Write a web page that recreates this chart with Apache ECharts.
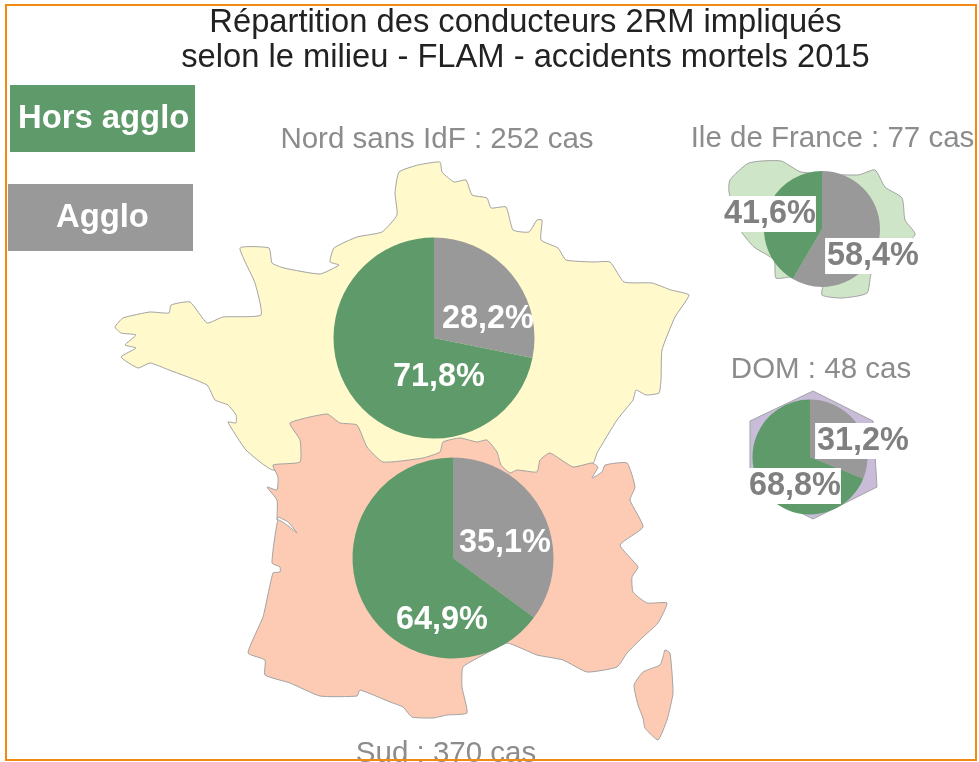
<!DOCTYPE html>
<html><head><meta charset="utf-8">
<style>html,body{margin:0;padding:0;background:#fff}#c{width:979px;height:762px}</style>
<script src="https://cdn.jsdelivr.net/npm/echarts@6/dist/echarts.min.js"></script>
</head><body><div id="c"></div>
<script>
const categories = ['Agglo', 'Hors agglo'];
const zones = ['Nord sans IdF : 252 cas', 'Sud : 370 cas', 'Ile de France : 77 cas', 'DOM : 48 cas'];
const nordValues = [28.2, 71.8];
const sudValues = [35.1, 64.9];
const idfValues = [58.4, 41.6];
const domValues = [31.2, 68.8];
const titleLines = 'Répartition des conducteurs 2RM impliqués\nselon le milieu - FLAM - accidents mortels 2015';

const GREEN = '#5e9a6a', GREY = '#999999', FONT = '"Liberation Sans", Arial, sans-serif';

const nordShape = [[399,172],[418,165],[440,162],[442,172],[454,182],[466,180],[472,195],[487,198],[491,208],[506,207],[513,230],[529,232],[537,220],[542,220],[541,240],[558,248],[566,260],[594,262],[610,262],[624,282],[652,283],[671,290],[689,295],[675,317],[662,350],[661,380],[659,393],[646,395],[636,390],[633,400],[617,420],[597,453],[593,463],[500,480],[273,470],[246,450],[228,422],[236,423],[236,415],[228,405],[215,400],[207,385],[169,370],[150,363],[138,368],[121,357],[136,348],[125,345],[136,335],[121,333],[115,327],[123,318],[150,312],[169,313],[171,305],[190,302],[207,323],[223,317],[261,315],[255,283],[240,248],[269,248],[272,263],[284,268],[320,274],[339,265],[330,262],[334,248],[357,237],[382,232],[397,215],[395,193]];
const sudShape = [[592,463],[573,467],[550,453],[540,460],[537,472],[517,470],[510,473],[501,465],[497,452],[487,440],[477,442],[460,438],[443,442],[440,452],[423,458],[383,462],[367,447],[357,425],[340,423],[327,414],[290,423],[300,440],[300,462],[273,465],[278,477],[277,490],[267,487],[277,500],[277,520],[278,517],[288,522],[297,533],[287,525],[278,520],[272,563],[280,567],[280,572],[273,573],[263,617],[248,653],[265,660],[265,675],[290,683],[320,696],[357,696],[360,690],[390,702],[403,707],[412,717],[433,718],[447,715],[467,713],[462,687],[463,667],[487,653],[507,643],[537,655],[563,660],[587,672],[617,667],[627,653],[643,637],[658,623],[667,603],[647,603],[633,592],[632,577],[638,567],[620,545],[643,527],[630,500],[635,487],[627,463],[605,465],[602,472],[592,478],[598,467]];
const corseShape = [[665,650],[670,653],[673,693],[667,720],[658,740],[645,728],[643,718],[638,705],[634,685],[643,672],[660,665],[663,657]];
const idfShape = [[730,180],[749,163],[781,161],[801,172],[858,175],[875,170],[885,187],[902,198],[905,220],[915,235],[872,272],[867,293],[842,298],[822,295],[823,280],[791,277],[776,278],[774,260],[754,247],[739,228],[729,192]];
const domShape = [[813,391],[873,421],[877,487],[813,519],[750,487],[750,421]];

function poly(points, fill, smooth) {
  return { type: 'polygon', z: -1, shape: { points, smooth: smooth || 0 },
    style: { fill, stroke: '#a3a3a3', lineWidth: 1 }, silent: true };
}
function fmt(p) { return p.value.toFixed(1).replace('.', ',') + '%'; }

function pie(values, center, radius, labelPos, small) {
  return {
    type: 'pie', center, radius, startAngle: 90, clockwise: true, animation: false, silent: true,
    data: categories.map((name, i) => ({ name, value: values[i], itemStyle: { color: i ? GREEN : GREY } })),
    label: {
      show: true, position: 'inside', formatter: fmt, fontFamily: FONT, fontWeight: 'bold', fontSize: 32.4,
      color: small ? '#808080' : '#ffffff', backgroundColor: small ? '#ffffff' : 'transparent',
      padding: small ? [2, 0, 2, 2] : 0, lineHeight: 32
    },
    labelLine: { show: false },
    labelLayout: (p) => ({ x: labelPos[p.dataIndex][0], y: labelPos[p.dataIndex][1], align: 'center', verticalAlign: 'middle', hideOverlap: false }),
    emphasis: { disabled: true }
  };
}
function legendBox(name, left, top, color, pad, textDy) {
  return {
    left, top, data: [name], icon: 'rect', itemWidth: 0, itemHeight: 0, selectedMode: false, padding: 0,
    textStyle: { color: '#fff', fontFamily: FONT, fontWeight: 'bold', fontSize: 32.8, backgroundColor: color,
      width: 185 - pad, height: 67 - Math.abs(textDy), lineHeight: 67 - Math.abs(textDy),
      padding: [textDy > 0 ? textDy : 0, 0, textDy < 0 ? -textDy : 0, pad], verticalAlign: 'middle' }
  };
}
function zoneTitle(text, x, top) {
  return { text, left: x, top, textAlign: 'center', padding: 0,
    textStyle: { color: '#8c8c8c', fontFamily: FONT, fontWeight: 'normal', fontSize: 29.5 } };
}

const chart = echarts.init(document.getElementById('c'), null, { renderer: 'canvas' });
chart.setOption({
  backgroundColor: '#ffffff',
  title: [
    { text: titleLines, left: 525.5, top: 5, textAlign: 'center', padding: 0,
      textStyle: { color: '#222222', fontFamily: FONT, fontWeight: 'normal', fontSize: 32.7, lineHeight: 35 } },
    zoneTitle(zones[0], 437, 125),
    zoneTitle(zones[1], 446, 739),
    zoneTitle(zones[2], 832.5, 124),
    zoneTitle(zones[3], 821, 355)
  ],
  legend: [ legendBox(categories[1], 5, 85, GREEN, 8, -2), legendBox(categories[0], 3, 184, GREY, 48, 3) ],
  graphic: { elements: [
    poly(nordShape, '#fff9cc', 0.15),
    poly(sudShape, '#fdcbb4', 0.15),
    poly(corseShape, '#fdcbb4', 0.15),
    poly(idfShape, '#cfe5c8', 0.2),
    poly(domShape, '#c9bcd9'),
    { type: 'rect', z: 100, silent: true, shape: { x: 6, y: 5, width: 970, height: 755 },
      style: { fill: 'none', stroke: '#f08a12', lineWidth: 2 } }
  ] },
  series: [
    pie(nordValues, [434, 338], 100.5, [[488, 319], [439, 377]], false),
    pie(sudValues, [453, 558], 100.5, [[505, 543], [442, 620]], false),
    pie(idfValues, [822, 229], 58, [[872, 256], [769, 214]], true),
    pie(domValues, [810, 457], 57.5, [[862, 441], [794, 486]], true)
  ]
});
</script></body></html>
